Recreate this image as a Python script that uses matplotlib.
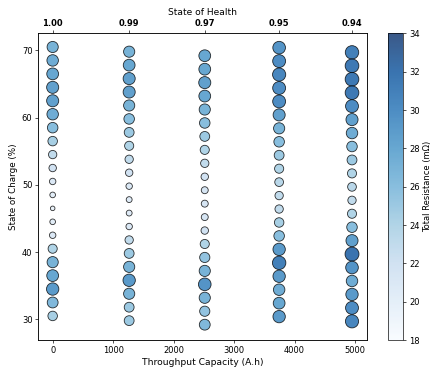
import matplotlib
matplotlib.use("Agg")
import matplotlib.pyplot as plt
import numpy as np

# Throughput capacity (A.h) of each test column and matching state of health
throughput = [0, 1265, 2515, 3745, 4950]
soh_labels = ["1.00", "0.99", "0.97", "0.95", "0.94"]

# State of charge (%) per column, top to bottom
soc_c1 = [70.5, 68.5, 66.5, 64.5, 62.5, 60.5, 58.5, 56.5, 54.5, 52.5, 50.5,
          48.5, 46.5, 44.5, 42.5, 40.5, 38.5, 36.5, 34.5, 32.5, 30.5]
soc_c2 = [69.8, 67.8, 65.8, 63.8, 61.8, 59.8, 57.8, 55.8, 53.8, 51.8, 49.8,
          47.8, 45.8, 43.8, 41.8, 39.8, 37.8, 35.8, 33.8, 31.8, 29.8]
soc_c3 = [69.2, 67.2, 65.2, 63.2, 61.2, 59.2, 57.2, 55.2, 53.2, 51.2, 49.2,
          47.2, 45.2, 43.2, 41.2, 39.2, 37.2, 35.2, 33.2, 31.2, 29.2]
soc_c4 = [70.4, 68.4, 66.4, 64.4, 62.4, 60.4, 58.4, 56.4, 54.4, 52.4, 50.4,
          48.4, 46.4, 44.4, 42.4, 40.4, 38.4, 36.4, 34.4, 32.4, 30.4]
soc_c5 = [69.7, 67.7, 65.7, 63.7, 61.7, 59.7, 57.7, 55.7, 53.7, 51.7, 49.7,
          47.7, 45.7, 43.7, 41.7, 39.7, 37.7, 35.7, 33.7, 31.7, 29.7]

# Total resistance (mOhm) per column, top to bottom
res_c1 = [27.0, 27.5, 28.0, 28.5, 28.5, 27.5, 26.0, 24.5, 23.0, 22.0, 21.0,
          20.3, 19.5, 20.3, 21.0, 24.0, 27.0, 28.0, 29.0, 26.5, 24.5]
res_c2 = [27.0, 28.0, 28.5, 28.5, 27.0, 26.0, 25.0, 24.0, 23.0, 22.0, 21.0,
          20.5, 20.5, 21.0, 23.0, 25.0, 27.0, 29.0, 27.0, 25.0, 25.0]
res_c3 = [28.0, 28.0, 28.5, 28.0, 27.0, 26.0, 25.0, 24.0, 23.0, 22.0, 21.5,
          21.5, 21.5, 22.0, 24.0, 25.5, 27.0, 29.5, 27.0, 25.5, 26.5]
res_c4 = [29.5, 30.0, 30.5, 30.0, 30.0, 28.5, 27.0, 26.0, 25.0, 24.0, 23.5,
          23.0, 23.0, 24.5, 26.0, 29.0, 31.0, 29.0, 27.5, 28.0, 29.0]
res_c5 = [31.0, 31.5, 31.5, 31.5, 30.0, 28.5, 27.5, 26.0, 25.0, 24.0, 23.5,
          23.0, 24.0, 26.0, 28.5, 32.0, 29.5, 27.5, 29.0, 30.0, 30.5]

soc_cols = [soc_c1, soc_c2, soc_c3, soc_c4, soc_c5]
res_cols = [res_c1, res_c2, res_c3, res_c4, res_c5]

vmin, vmax = 18, 34

xs, ys, rs = [], [], []
for x, socs, res in zip(throughput, soc_cols, res_cols):
    xs += [x] * len(socs)
    ys += socs
    rs += res
xs = np.array(xs); ys = np.array(ys); rs = np.array(rs)
sizes = 20 * (rs - vmin)

fig = plt.figure(figsize=(441 / 60, 375 / 60), dpi=60)
ax = fig.add_axes([0.0868, 0.0933, 0.7461, 0.8178])
sc = ax.scatter(xs, ys, s=sizes, c=rs, cmap="Blues", vmin=vmin, vmax=vmax,
                alpha=0.8, edgecolors="black", linewidths=1)
ax.set_xlim(-238, 5203)
ax.set_ylim(26.92, 72.53)
ax.set_xticks([0, 1000, 2000, 3000, 4000, 5000])
ax.set_yticks([30, 40, 50, 60, 70])
ax.set_xlabel("Throughput Capacity (A.h)", fontsize=11)
ax.set_ylabel("State of Charge (%)", fontsize=10.5)

ax2 = ax.twiny()
ax2.set_xlim(ax.get_xlim())
ax2.set_xticks(throughput)
ax2.set_xticklabels(soh_labels, fontweight="bold")
ax2.set_xlabel("State of Health", fontsize=11)

cax = fig.add_axes([0.88, 0.0933, 0.034, 0.8178])
cb = fig.colorbar(sc, cax=cax)
cb.set_ticks(np.arange(18, 35, 2))
cb.set_label("Total Resistance (mΩ)")

fig.savefig("out.png", dpi=60)
